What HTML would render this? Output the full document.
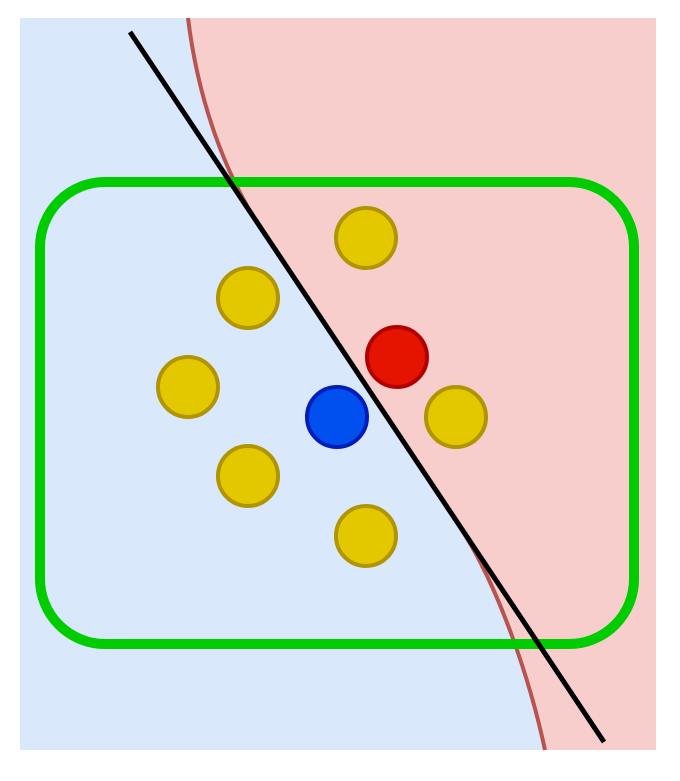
<!DOCTYPE html>
<html><head><meta charset="utf-8"><style>html,body{margin:0;padding:0;background:#fff}</style></head>
<body>
<svg width="680" height="776" viewBox="0 0 680 776" xmlns="http://www.w3.org/2000/svg">
<rect x="20" y="18" width="636" height="732" fill="#dae8fc"/>
<path d="M188,18 C198,100 225,175 262,230 L462,530 C500,590 530,680 545,750 L656,750 L656,18 Z" fill="#f8cecc"/>
<path d="M188,18 C198,100 225,175 262,230 L462,530 C500,590 530,680 545,750" fill="none" stroke="#b85450" stroke-width="4"/>
<rect x="40" y="182" width="594" height="462" rx="65" ry="65" fill="none" stroke="#00cc00" stroke-width="10"/>
<line x1="130" y1="32" x2="604" y2="742" stroke="#000" stroke-width="5"/>
<g fill="#e3c800" stroke="#b09500" stroke-width="4">
<circle cx="366" cy="238" r="30"/>
<circle cx="248" cy="298" r="30"/>
<circle cx="188" cy="387" r="30"/>
<circle cx="248" cy="476" r="30"/>
<circle cx="366" cy="536" r="30"/>
<circle cx="456" cy="417" r="30"/>
</g>
<circle cx="397" cy="357" r="30" fill="#e51400" stroke="#b20000" stroke-width="4"/>
<circle cx="337" cy="417" r="30" fill="#0050ef" stroke="#001dbc" stroke-width="4"/>
</svg>
</body></html>
